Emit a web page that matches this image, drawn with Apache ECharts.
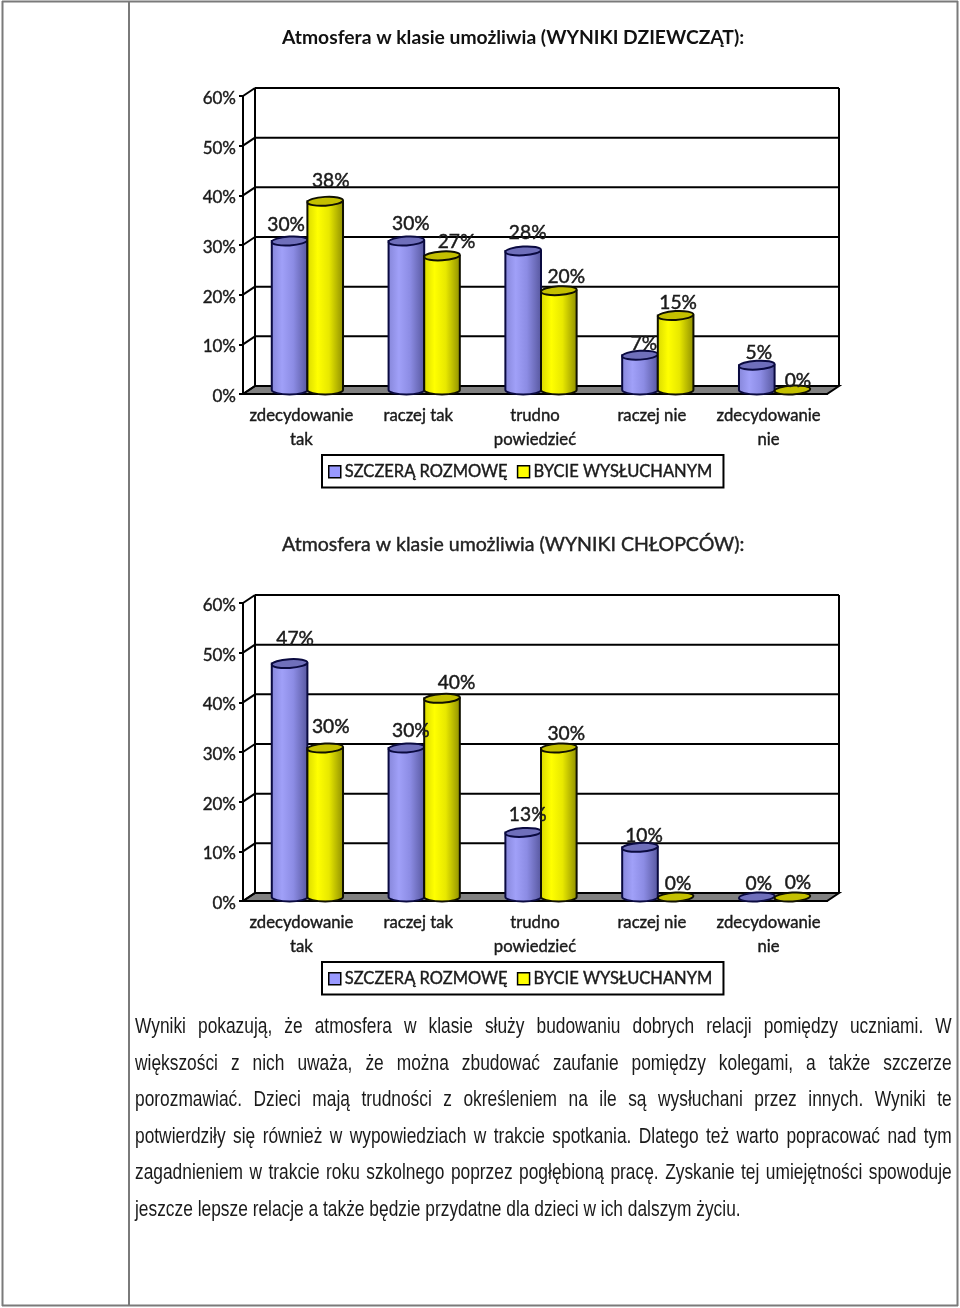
<!DOCTYPE html>
<html><head><meta charset="utf-8">
<script src="https://cdn.jsdelivr.net/npm/echarts@6/dist/echarts.min.js"></script>
<style>
html,body{margin:0;padding:0;background:#fff;}
#c{position:absolute;left:0;top:0;width:960px;height:1308px;}
#p{position:absolute;left:135px;top:1008px;width:1012px;font:21.5px/36.5px "Liberation Sans",sans-serif;color:#1a1a1a;transform:scaleX(0.807);transform-origin:0 0;}
#p div{text-align:justify;text-align-last:justify;white-space:nowrap;height:36.5px;}
#p div.last{text-align-last:left;}
</style></head><body>
<div id="c"></div>
<div id="p"></div>
<script>
const categories = ['zdecydowanie\ntak','raczej tak','trudno\npowiedzieć','raczej nie','zdecydowanie\nnie'];
const ticks = [0,10,20,30,40,50,60];
const seriesNames = ['SZCZERĄ ROZMOWĘ','BYCIE WYSŁUCHANYM'];
const girlsTalk = [30,30,28,7,5];
const girlsHeard = [38,27,20,15,0];
const boysTalk = [47,30,13,10,0];
const boysHeard = [30,40,30,0,0];
const titleGirls = 'Atmosfera w klasie umożliwia (WYNIKI DZIEWCZĄT):';
const titleBoys = 'Atmosfera w klasie umożliwia (WYNIKI CHŁOPCÓW):';
const paragraphLines = [
 'Wyniki pokazują, że atmosfera w klasie służy budowaniu dobrych relacji pomiędzy uczniami. W',
 'większości z nich uważa, że można zbudować zaufanie pomiędzy kolegami, a także szczerze',
 'porozmawiać. Dzieci mają trudności z określeniem na ile są wysłuchani przez innych. Wyniki te',
 'potwierdziły się również w wypowiedziach w trakcie spotkania. Dlatego też warto popracować nad tym',
 'zagadnieniem w trakcie roku szkolnego poprzez pogłębioną pracę. Zyskanie tej umiejętności spowoduje',
 'jeszcze lepsze relacje a także będzie przydatne dla dzieci w ich dalszym życiu.'
];
// label placement nudges (px) from the top of each cylinder
const nudgeGirlsTalk = [[-3.5,-16.3],[4.5,-17.3],[4.5,-18.3],[4,-11.3],[2,-12.3]];
const nudgeGirlsHeard = [[5.5,-20.3],[14.5,-14.3],[7.5,-14.3],[2.5,-12.8],[5.5,-9.3]];
const nudgeBoysTalk = [[5.5,-24.3],[4.5,-17.3],[4.5,-17.3],[4,-11.3],[2,-13.3]];
const nudgeBoysHeard = [[5.5,-21.3],[14.5,-15.3],[7.5,-14.3],[2.5,-13.3],[5.5,-14.3]];

document.getElementById('p').innerHTML = paragraphLines.map((l,i)=>
  '<div'+(i===paragraphLines.length-1?' class="last"':'')+'>'+l+'</div>').join('');

const FONT='Lato';
const DX=12, DY=-8, BARW=0.305;
const INK='#1a1a1a';
const BLUE={grad:[[0,'#8585d8'],[0.3,'#a0a0f8'],[0.6,'#8c8ce4'],[1,'#55559c']],top:'#6f6fbb',line:'#0a0a40',legend:'#9999ff'};
const YEL={grad:[[0,'#d8d800'],[0.3,'#ffff00'],[0.6,'#e8e800'],[1,'#8c8c00']],top:'#c4c000',line:'#101000',legend:'#ffff00'};

function wallRender(params, api){
  const v=api.value(0), cs=params.coordSys;
  const y=api.coord([0,v])[1], x0=cs.x, x1=cs.x+cs.width;
  const ln=(a,b,c,d,w)=>({type:'line',shape:{x1:a,y1:b,x2:c,y2:d},style:{stroke:'#000',lineWidth:w||2}});
  const kids=[];
  if(v===0){
    kids.push({type:'polygon',shape:{points:[[x0,y],[x0+DX,y+DY],[x1+DX,y+DY],[x1,y]]},style:{fill:'#808080',stroke:'#000',lineWidth:2}});
    kids.push(ln(x0+DX,y+DY,x0+DX,cs.y+DY));
    kids.push(ln(x1+DX,y+DY,x1+DX,cs.y+DY));
  }
  kids.push(ln(x0,y,x0+DX,y+DY));
  kids.push(ln(x0+DX,y+DY,x1+DX,y+DY));
  return {type:'group',children:kids};
}
function barX(api,i,side){
  const base=api.coord([i,0]), w=api.size([1,0])[0]*BARW;
  return {cx:base[0]+DX/2+side*w/2,w:w,base:base[1]};
}
function cylRender(c,side){
  return function(params,api){
    const i=api.value(0), val=api.value(1);
    const b=barX(api,i,side), cx=b.cx, l=cx-b.w/2, r=cx+b.w/2;
    const rx=b.w/2, ry=4.4, yb=b.base+DY/2, yt=api.coord([i,val])[1]+DY/2;
    const kids=[];
    if(val>0){
      kids.push({type:'path',shape:{pathData:`M${l} ${yt}L${l} ${yb}A${rx} ${ry} 0 0 0 ${r} ${yb}L${r} ${yt}Z`},
        style:{fill:new echarts.graphic.LinearGradient(0,0,1,0,c.grad.map(g=>({offset:g[0],color:g[1]}))),stroke:c.line,lineWidth:2}});
    }
    kids.push({type:'ellipse',shape:{cx:cx,cy:yt,rx:rx,ry:ry},rotation:0.06,originX:cx,originY:yt,style:{fill:c.top,stroke:c.line,lineWidth:2}});
    return {type:'group',children:kids};
  };
}
function labelRender(side,nudge){
  return function(params,api){
    const i=api.value(0), val=api.value(1), b=barX(api,i,side), yt=api.coord([i,val])[1]+DY/2;
    return {type:'text',style:{text:val+'%',x:b.cx+nudge[i][0],y:yt+nudge[i][1],align:'center',verticalAlign:'middle',
      font:'19.2px '+FONT,fill:INK,stroke:INK,lineWidth:0.45}};
  };
}
function panel(idx,talk,heard,nt,nh){
  const ax={xAxisIndex:idx,yAxisIndex:idx,clip:false,encode:{x:0,y:1}};
  const pts=a=>a.map((v,i)=>[i,v]);
  return [
    {type:'custom',xAxisIndex:idx,yAxisIndex:idx,silent:true,z:1,clip:false,encode:{x:-1,y:0},data:ticks.map(t=>[t]),renderItem:wallRender},
    Object.assign({type:'custom',name:seriesNames[0],z:3,itemStyle:{color:BLUE.legend},data:pts(talk),renderItem:cylRender(BLUE,-1)},ax),
    Object.assign({type:'custom',name:seriesNames[1],z:4,itemStyle:{color:YEL.legend},data:pts(heard),renderItem:cylRender(YEL,1)},ax),
    Object.assign({type:'custom',silent:true,z:6,data:pts(talk),renderItem:labelRender(-1,nt)},ax),
    Object.assign({type:'custom',silent:true,z:6,data:pts(heard),renderItem:labelRender(1,nh)},ax)
  ];
}
const heavy={textBorderColor:INK,textBorderWidth:0.4};
const axisLab=Object.assign({fontFamily:FONT,fontSize:16.7,color:INK},heavy);
const grids=[{left:243,width:584,top:96,height:298},{left:243,width:584,top:603,height:298}];
const frameLine=(a,b,c,d)=>({type:'line',shape:{x1:a,y1:b,x2:c,y2:d},style:{stroke:'#7a7a7a',lineWidth:2}});
const legendCommon={data:seriesNames,left:322,orient:'horizontal',backgroundColor:'#fff',borderColor:'#000',borderWidth:2,
  padding:[8,11,7,6],itemWidth:12,itemHeight:12,itemGap:9,icon:'rect',selectedMode:false,
  itemStyle:{borderColor:'#000',borderWidth:1.5},
  textStyle:Object.assign({fontFamily:FONT,fontSize:16.5,color:INK,padding:[0,0,0,-1]},heavy)};
const chart=echarts.init(document.getElementById('c'),null,{renderer:'canvas'});
chart.setOption({
  animation:false,backgroundColor:'#fff',
  title:[
    {text:titleGirls,left:277,top:23,textStyle:{fontFamily:FONT,fontSize:19.3,fontWeight:'bold',color:'#111'}},
    {text:titleBoys,left:277,top:530,textStyle:Object.assign({fontFamily:FONT,fontSize:19.55,fontWeight:'normal',color:'#222'},{textBorderColor:'#222',textBorderWidth:0.4})}
  ],
  legend:[Object.assign({top:455},legendCommon),Object.assign({top:962},legendCommon)],
  grid:grids,
  xAxis:grids.map((g,i)=>({type:'category',gridIndex:i,data:categories,
    axisLine:{lineStyle:{color:'#000',width:2}},axisTick:{length:5,lineStyle:{color:'#000',width:2}},
    axisLabel:Object.assign({margin:10,lineHeight:23.5,interval:0},axisLab)})),
  yAxis:grids.map((g,i)=>({type:'value',gridIndex:i,min:0,max:60,interval:10,
    axisLine:{show:true,lineStyle:{color:'#000',width:2}},axisTick:{show:true,length:4,lineStyle:{color:'#000',width:2}},
    splitLine:{show:false},axisLabel:Object.assign({margin:7,formatter:'{value}%',verticalAlign:'top',lineHeight:5},axisLab,{fontSize:17})})),
  series:[].concat(panel(0,girlsTalk,girlsHeard,nudgeGirlsTalk,nudgeGirlsHeard),panel(1,boysTalk,boysHeard,nudgeBoysTalk,nudgeBoysHeard)),
  graphic:[{type:'group',silent:true,children:[frameLine(2.5,1,2.5,1306),frameLine(129,1,129,1306),frameLine(957.5,1,957.5,1306),frameLine(2,1.5,958,1.5),frameLine(2,1305.5,958,1305.5)]}]
});
</script></body></html>
